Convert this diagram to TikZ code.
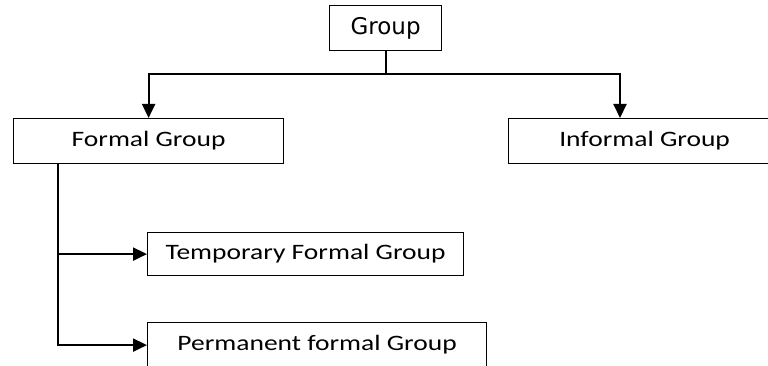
\documentclass[tikz,border=0pt]{standalone}
\usepackage{fontspec}
\setmainfont{Carlito}[FakeStretch=1.25]
\newfontfamily\dejavu{DejaVu Sans}
\usetikzlibrary{arrows.meta,positioning}

\begin{document}
\begin{tikzpicture}[x=1pt, y=-1pt,
  box/.style={rectangle, draw, line width=1.2pt, inner sep=0pt,
              anchor=north west, minimum height=45pt,
              font=\fontsize{22}{26}\selectfont},
  arr/.style={-{Triangle[length=14pt,width=13pt]}, line width=2pt},
  ln/.style={line width=2pt}
]
  \useasboundingbox (0,0) rectangle (768,366);

  \node[box, minimum width=112pt,
        font=\dejavu\fontsize{23}{26}\selectfont] (grp) at (329,5) {Group};
  \node[box, minimum width=270pt] (formal)   at (13,118)  {Formal Group};
  \node[box, minimum width=272pt] (informal) at (508,118) {Informal Group};
  \node[box, minimum width=316pt, minimum height=43pt] (temp) at (147,232)
    {Temporary Formal Group};
  \node[box, minimum width=339pt] (perm) at (147,322)
    {Permanent formal Group};

  \draw[ln] (grp.south) -- ++(0,23) coordinate (split);
  \draw[arr] (split) -| (formal.north);
  \draw[arr] (split) -| ([xshift=112pt]informal.north west);
  \draw[arr] ([xshift=45pt]formal.south west) |- (perm.west);
  \draw[arr] ([xshift=45pt]formal.south west |- temp.west) -- (temp.west);
\end{tikzpicture}
\end{document}
